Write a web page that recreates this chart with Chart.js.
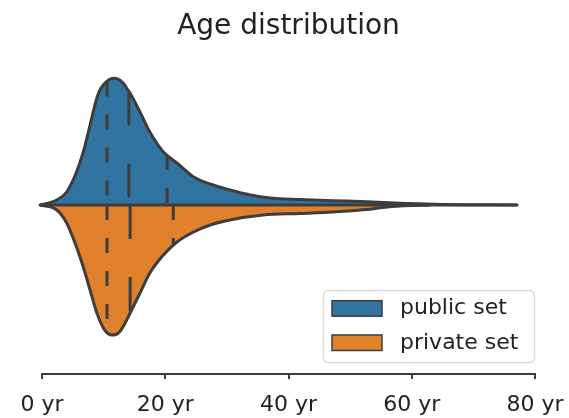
<!DOCTYPE html>
<html>
<head>
<meta charset="utf-8">
<script src="https://cdn.jsdelivr.net/npm/chart.js@4.4.1/dist/chart.umd.min.js"></script>
<style>
  html, body { margin: 0; padding: 0; background: #ffffff; overflow: hidden; }
  #wrap { width: 569px; height: 418px; position: relative; }
</style>
</head>
<body>
<div id="wrap"><canvas id="c" width="569" height="418"></canvas></div>
<script>
// ---- data ----
const chartTitle = 'Age distribution';
const seriesNames = ['public set', 'private set'];

// age (years) and half-violin width (density, arbitrary units)
const publicAges = [-0.3, 2.4, 4.0, 5.6, 6.7, 7.8, 8.9, 9.4, 9.95, 10.8, 11.6, 12.4, 13.2, 13.75, 14.3, 15.9, 17.5, 19.7, 21.9, 24.6, 27.3, 30.5, 33.8, 37.0, 41.9, 47.2, 52.7, 58.1, 63.4, 77.1];
const publicDensity = [0, 5, 13, 33, 53, 80, 107, 115, 120, 125, 126.7, 125.7, 121.7, 116.7, 111.7, 93, 73, 53, 42, 28, 21, 15, 10, 7, 5.5, 4.3, 3.3, 1.7, 0.7, 0];

const privateAges = [-0.3, 2.4, 4.0, 5.6, 6.7, 7.8, 8.9, 9.95, 10.6, 11.3, 12.0, 12.7, 13.5, 14.3, 15.9, 17.5, 19.7, 21.9, 24.6, 27.3, 30.5, 35.9, 41.9, 47.2, 52.7, 55.3, 58.1, 63.0];
const privateDensity = [0, 5, 18, 42, 62, 85, 108, 123, 128, 130, 129.5, 126, 118, 108, 88, 68, 50, 37, 27, 20, 15, 10, 8.5, 7, 4.5, 2.5, 1, 0];

// quartiles (q25, median, q75) in years
const publicQuartiles = [10.55, 14.1, 20.3];
const privateQuartiles = [10.55, 14.3, 21.3];

const tickValues = [0, 20, 40, 60, 80];
const tickLabels = ['0 yr', '20 yr', '40 yr', '60 yr', '80 yr'];

// ---- styling ----
const FONT = 'DejaVu Sans';
const EDGE = '#3d3d3d';
const BLUE = '#3274a1';
const ORANGE = '#e1812c';
const TEXT = '#222222';

function toPoints(xs, ys, sign) {
  return xs.map((x, i) => ({ x: x, y: sign * ys[i] }));
}
function densityAt(xs, ys, q) {
  for (let i = 0; i < xs.length - 1; i++) {
    if (q >= xs[i] && q <= xs[i + 1]) {
      const t = (q - xs[i]) / (xs[i + 1] - xs[i]);
      return ys[i] + t * (ys[i + 1] - ys[i]);
    }
  }
  return 0;
}
function quartileSets(xs, ys, qs, sign) {
  return qs.map((q, i) => {
    const h = densityAt(xs, ys, q) * sign;
    // public lines start at the outer edge, private lines start at the centre
    const pts = sign > 0 ? [{ x: q, y: h }, { x: q, y: 0 }] : [{ x: q, y: 0 }, { x: q, y: h }];
    return {
      label: '_q',
      data: pts,
      borderColor: EDGE,
      borderWidth: 3,
      borderDash: i === 1 ? [34, 38] : [15, 18],
      borderCapStyle: 'butt',
      pointRadius: 0,
      fill: false,
      tension: 0,
      clip: false,
      order: 0
    };
  });
}

const violinStyle = {
  borderColor: EDGE,
  borderWidth: 3,
  fill: 'origin',
  pointRadius: 0,
  tension: 0.4,
  cubicInterpolationMode: 'monotone',
  borderJoinStyle: 'round',
  clip: false,
  order: 2
};

const datasets = [
  Object.assign({ label: seriesNames[0], data: toPoints(publicAges, publicDensity, 1), backgroundColor: BLUE }, violinStyle),
  Object.assign({ label: seriesNames[1], data: toPoints(privateAges, privateDensity, -1), backgroundColor: ORANGE }, violinStyle),
  {
    label: '_centre',
    data: [{ x: publicAges[0], y: 0 }, { x: publicAges[publicAges.length - 1], y: 0 }],
    borderColor: EDGE,
    borderWidth: 3,
    borderCapStyle: 'round',
    pointRadius: 0,
    fill: false,
    clip: false,
    order: 1
  },
  ...quartileSets(publicAges, publicDensity, publicQuartiles, 1),
  ...quartileSets(privateAges, privateDensity, privateQuartiles, -1)
];

const legendPlugin = {
  id: 'boxLegend',
  afterDraw(chart) {
    const ctx = chart.ctx;
    const ca = chart.chartArea;
    const w = 212, h = 73;
    const left = ca.right - w;
    const top = ca.bottom - 11 - h;
    ctx.save();
    ctx.beginPath();
    ctx.roundRect(left + 0.5, top + 0.5, w - 1, h - 1, 5);
    ctx.fillStyle = 'rgba(255,255,255,0.8)';
    ctx.fill();
    ctx.strokeStyle = '#dcdcdc';
    ctx.lineWidth = 1.5;
    ctx.stroke();
    const colors = [BLUE, ORANGE];
    const rowsTop = [top + 10.7, top + 45];
    ctx.font = '22px "' + FONT + '"';
    ctx.textBaseline = 'middle';
    ctx.textAlign = 'left';
    seriesNames.forEach((name, i) => {
      const py = rowsTop[i];
      ctx.fillStyle = colors[i];
      ctx.fillRect(left + 9, py, 50, 15.5);
      ctx.strokeStyle = EDGE;
      ctx.lineWidth = 1.5;
      ctx.strokeRect(left + 9, py, 50, 15.5);
      ctx.fillStyle = TEXT;
      ctx.fillText(name, left + 77, py + 8);
    });
    ctx.restore();
  }
};

new Chart(document.getElementById('c'), {
  type: 'line',
  data: { datasets: datasets },
  options: {
    responsive: false,
    animation: false,
    devicePixelRatio: 1,
    layout: { padding: { left: 42, right: 34, top: 0, bottom: -14.4 } },
    plugins: {
      legend: { display: false },
      tooltip: { enabled: false },
      title: {
        display: true,
        text: chartTitle,
        color: TEXT,
        font: { family: FONT, size: 28, weight: 'normal' },
        padding: { top: 10, bottom: 16 }
      }
    },
    scales: {
      x: {
        type: 'linear',
        min: 0,
        max: 80,
        afterBuildTicks: axis => { axis.ticks = tickValues.map(v => ({ value: v })); },
        ticks: {
          color: TEXT,
          font: { family: FONT, size: 22, lineHeight: 2.155 },
          padding: 3,
          maxRotation: 0,
          autoSkip: false,
          callback: (v, i) => tickLabels[i]
        },
        grid: {
          display: true,
          drawOnChartArea: false,
          drawTicks: true,
          tickLength: 5,
          color: EDGE,
          lineWidth: 2
        },
        border: { display: true, color: EDGE, width: 2 }
      },
      y: {
        type: 'linear',
        display: false,
        min: -169,
        max: 145.4
      }
    }
  },
  plugins: [legendPlugin]
});
</script>
</body>
</html>
